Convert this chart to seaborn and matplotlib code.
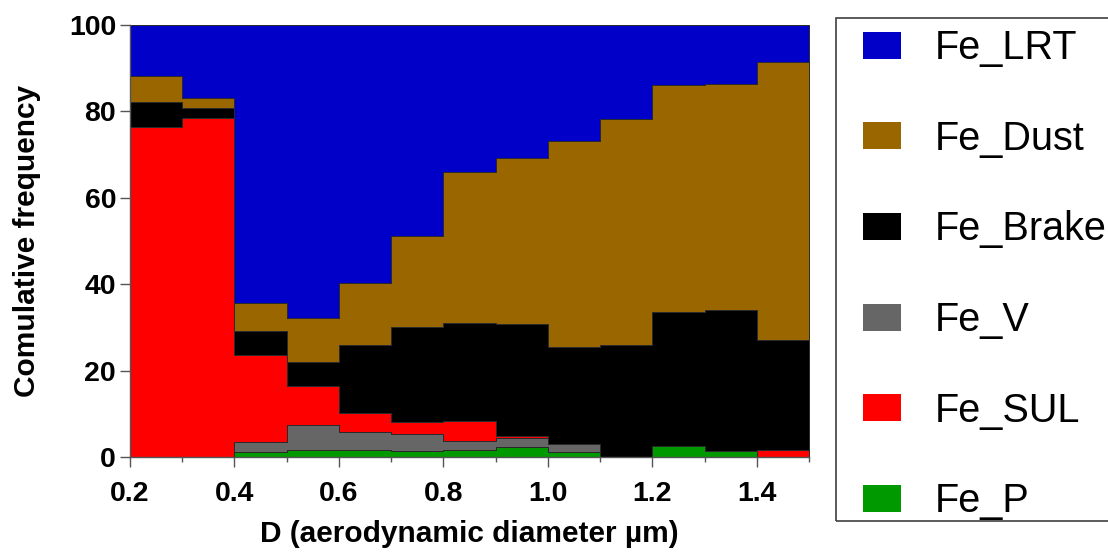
import numpy as np
import pandas as pd
import seaborn as sns
import matplotlib
matplotlib.use("Agg")
import matplotlib.pyplot as plt
from matplotlib.patches import Rectangle, Patch
from matplotlib.ticker import MultipleLocator

# ---- data -------------------------------------------------------------
bin_edges = [0.2, 0.3, 0.4, 0.5, 0.6, 0.7, 0.8, 0.9, 1.0, 1.1, 1.2, 1.3, 1.4, 1.5]
bin_centers = [0.25, 0.35, 0.45, 0.55, 0.65, 0.75, 0.85, 0.95, 1.05, 1.15, 1.25, 1.35, 1.45]

legend_order = ["Fe_LRT", "Fe_Dust", "Fe_Brake", "Fe_V", "Fe_SUL", "Fe_P"]
# stacking order: first hue level is drawn on top in seaborn
stack_order = ["Fe_LRT", "Fe_Dust", "Fe_Brake", "Fe_SUL", "Fe_V", "Fe_P"]

fe_p     = [0.0, 0.0, 1.2, 1.7, 1.7, 1.3, 1.7, 2.4, 1.2, 0.0, 2.5, 1.3, 0.0]
fe_v     = [0.0, 0.0, 2.2, 5.8, 4.0, 4.0, 2.1, 2.0, 1.7, 0.0, 0.0, 0.0, 0.0]
fe_sul   = [76.3, 78.5, 20.3, 8.9, 4.4, 2.8, 4.5, 0.5, 0.2, 0.0, 0.0, 0.0, 1.7]
fe_brake = [5.8, 2.3, 5.5, 5.7, 15.9, 22.0, 22.8, 26.0, 22.3, 26.0, 31.1, 32.7, 25.4]
fe_dust  = [6.0, 2.4, 6.4, 10.1, 14.2, 21.0, 34.9, 38.4, 47.8, 52.2, 52.6, 52.3, 64.3]
fe_lrt   = [11.9, 16.8, 64.4, 67.8, 59.8, 48.9, 34.0, 30.7, 26.8, 21.8, 13.8, 13.7, 8.6]

colors = {
    "Fe_LRT": "#0000C8",
    "Fe_Dust": "#996600",
    "Fe_Brake": "#000000",
    "Fe_V": "#666666",
    "Fe_SUL": "#FF0000",
    "Fe_P": "#009900",
}

series = {
    "Fe_LRT": fe_lrt, "Fe_Dust": fe_dust, "Fe_Brake": fe_brake,
    "Fe_V": fe_v, "Fe_SUL": fe_sul, "Fe_P": fe_p,
}
rows = []
for name, vals in series.items():
    for c, v in zip(bin_centers, vals):
        rows.append({"D": c, "source": name, "value": v})
df = pd.DataFrame(rows)

# ---- style ------------------------------------------------------------
sns.set_style("ticks")
plt.rcParams["font.family"] = ["Liberation Sans", "DejaVu Sans"]
plt.rcParams["text.color"] = "black"
plt.rcParams["axes.labelcolor"] = "black"
plt.rcParams["xtick.labelcolor"] = "black"
plt.rcParams["ytick.labelcolor"] = "black"

fig = plt.figure(figsize=(11.08, 5.52), dpi=100)
ax = fig.add_axes([130 / 1108, 95 / 552, 679 / 1108, 432 / 552])

sns.histplot(
    data=df, x="D", weights="value", hue="source", hue_order=stack_order,
    palette=colors, bins=bin_edges, multiple="stack", element="step",
    alpha=1, linewidth=0.7, edgecolor="#2a2a2a", legend=False, ax=ax,
)

ax.set_xlim(0.2, 1.5)
ax.set_ylim(0, 100)
ax.xaxis.set_minor_locator(MultipleLocator(0.1))
ax.yaxis.set_major_locator(MultipleLocator(20))
ax.set_xticks([0.2, 0.4, 0.6, 0.8, 1.0, 1.2, 1.4])
ax.set_xticklabels(["0.2", "0.4", "0.6", "0.8", "1.0", "1.2", "1.4"])

for s in ["top", "right"]:
    ax.spines[s].set_visible(False)
for s in ["left", "bottom"]:
    ax.spines[s].set_color("#555555")
    ax.spines[s].set_linewidth(1.0)

ax.tick_params(axis="both", which="major", length=7, width=1, color="#555555",
               labelsize=20.5, labelcolor="black")
ax.tick_params(axis="y", which="major", pad=3)
ax.tick_params(axis="x", which="major", pad=10)
ax.tick_params(axis="x", which="minor", length=3.6, width=1, color="#555555")
for lab in ax.get_xticklabels() + ax.get_yticklabels():
    lab.set_fontweight("bold")

ax.set_xlabel("D (aerodynamic diameter µm)", fontsize=21.5, fontweight="bold",
              labelpad=10, color="black")
ax.set_ylabel("Comulative frequency", fontsize=21.5, fontweight="bold",
              labelpad=20, color="black")

# ---- legend -----------------------------------------------------------
handles = [Patch(facecolor=colors[n], edgecolor="none", label=n) for n in legend_order]
fig.legend(
    handles=handles, loc="upper left", bbox_to_anchor=(863 / 1108, 1 - 29 / 552),
    frameon=False, fontsize=28.5, handlelength=0.95, handleheight=0.67,
    handletextpad=0.85, labelspacing=1.33, borderpad=0, borderaxespad=0,
    labelcolor="black",
)
fig.patches.append(Rectangle((836 / 1108, 1 - 521 / 552), 0.4, (521 - 18) / 552,
                             transform=fig.transFigure, fill=False,
                             edgecolor="#404040", linewidth=1.2))

fig.savefig("out.png", dpi=100)
